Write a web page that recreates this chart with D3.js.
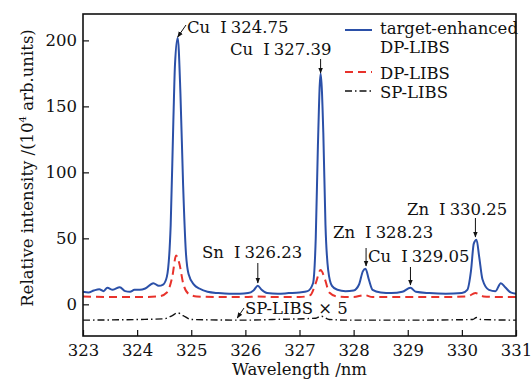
<!DOCTYPE html>
<html>
<head>
<meta charset="utf-8">
<script src="https://cdn.jsdelivr.net/npm/d3@7/dist/d3.min.js"></script>
<style>
  body { margin: 0; background: #fff; }
</style>
</head>
<body>
<svg id="chart" width="531" height="379"></svg>
<script>
// wavelength (nm) / intensity (10^4 arb.units)
const enhancedWl = [323.00, 323.10, 323.20, 323.30, 323.38, 323.45, 323.55, 323.68, 323.78, 323.87, 323.95, 324.05, 324.15, 324.30, 324.40, 324.48, 324.55, 324.62, 324.67, 324.70, 324.75, 324.80, 324.85, 324.90, 324.95, 325.05, 325.15, 325.30, 325.50, 325.70, 325.90, 326.05, 326.15, 326.23, 326.30, 326.40, 326.60, 326.80, 327.00, 327.15, 327.25, 327.30, 327.34, 327.39, 327.44, 327.48, 327.53, 327.60, 327.70, 327.85, 328.00, 328.10, 328.17, 328.22, 328.28, 328.35, 328.50, 328.70, 328.90, 329.05, 329.15, 329.40, 329.70, 330.00, 330.10, 330.17, 330.22, 330.27, 330.32, 330.38, 330.50, 330.62, 330.72, 330.80, 330.90, 331.00];
const enhancedVal = [9.5, 9, 10.5, 11.5, 10, 12.5, 11, 13, 10, 9.5, 11, 11, 12, 16, 14, 15, 21, 60, 140, 182, 202, 160, 90, 40, 23, 15, 12, 9.5, 8.5, 8, 8, 8.5, 10.5, 14, 11, 8.5, 8, 8.5, 9, 10, 16, 50, 120, 175, 130, 60, 26, 14, 11, 10, 10.5, 15, 25, 27, 19, 11, 9, 8.5, 9.5, 12.5, 9.5, 8.5, 8, 8.5, 11, 26, 46, 49, 36, 19, 11, 10, 16, 13, 9, 8];

const dpWl = [323.0, 323.5, 324.0, 324.4, 324.55, 324.65, 324.72, 324.78, 324.85, 324.95, 325.1, 325.5, 326.0, 326.23, 326.5, 327.0, 327.2, 327.3, 327.39, 327.47, 327.55, 327.7, 328.0, 328.2, 328.35, 329.0, 329.5, 330.1, 330.25, 330.4, 330.7, 331.0];
const dpVal = [6, 5.5, 5.5, 6, 9, 21, 37, 31, 16, 8, 6, 5.5, 5.5, 6, 5.5, 5.5, 7, 16, 26, 19, 9, 6, 5.5, 7, 5.5, 5.5, 5.5, 6, 8.5, 6, 5.5, 5.5];

// SP-LIBS x5, drawn with its own offset below zero
const spWl = [323.0, 324.0, 324.5, 324.65, 324.75, 324.85, 325.0, 326.0, 326.5, 327.3, 327.4, 327.55, 328.0, 329.0, 330.2, 330.27, 330.35, 331.0];
const spVal = [-12, -11.5, -11, -8.5, -6.5, -8.5, -11.5, -12, -11.5, -10.5, -9, -11.5, -12, -12, -11.5, -10, -11.5, -12];

const xTicks = [323, 324, 325, 326, 327, 328, 329, 330, 331];
const yTicks = [0, 50, 100, 150, 200];

const peakWl = [324.75, 327.39, 326.23, 328.23, 329.05, 330.25];
const peakText = ["Cu Ⅰ 324.75", "Cu Ⅰ 327.39", "Sn Ⅰ 326.23", "Zn Ⅰ 328.23", "Cu Ⅰ 329.05", "Zn Ⅰ 330.25"];

const seriesNames = ["target-enhanced", "DP-LIBS", "SP-LIBS"];

const FONT = "'DejaVu Serif', serif";
const FS = 16.5;

const svg = d3.select("#chart");
const margin = {left: 83, right: 15, top: 14, bottom: 43};
const W = 531, H = 379;

const x = d3.scaleLinear().domain([323, 331]).range([margin.left, W - margin.right]);
const y = d3.scaleLinear().domain([-24, 220]).range([H - margin.bottom, margin.top]);

svg.append("rect").attr("width", W).attr("height", H).attr("fill", "#fff");

// arrow head
svg.append("defs").append("marker")
  .attr("id", "ah").attr("viewBox", "0 0 10 10")
  .attr("refX", 9).attr("refY", 5)
  .attr("markerWidth", 6).attr("markerHeight", 6)
  .attr("orient", "auto")
  .append("path").attr("d", "M0,1 L10,5 L0,9 Z").attr("fill", "#111");

const line = d3.line().x(d => x(d[0])).y(d => y(d[1])).curve(d3.curveMonotoneX);

const plot = svg.append("g");
plot.append("path").datum(d3.zip(spWl, spVal)).attr("d", line)
  .attr("fill", "none").attr("stroke", "#111").attr("stroke-width", 1.4)
  .attr("stroke-dasharray", "7,3,1.5,3");
plot.append("path").datum(d3.zip(dpWl, dpVal)).attr("d", line)
  .attr("fill", "none").attr("stroke", "#e8322b").attr("stroke-width", 2)
  .attr("stroke-dasharray", "8,5");
plot.append("path").datum(d3.zip(enhancedWl, enhancedVal)).attr("d", line)
  .attr("fill", "none").attr("stroke", "#2b50a8").attr("stroke-width", 2);

function txt(sel) {
  return sel.style("font-family", FONT).style("font-size", FS + "px").attr("fill", "#111");
}

// axes, ticks pointing inwards
const xAxis = d3.axisBottom(x).tickValues(xTicks).tickSizeInner(-6).tickSizeOuter(0).tickFormat(d3.format("d"));
const yAxis = d3.axisLeft(y).tickValues(yTicks).tickSizeInner(-6).tickSizeOuter(0);

const gx = svg.append("g").attr("transform", `translate(0,${H - margin.bottom})`).call(xAxis);
gx.select(".domain").remove();
gx.selectAll("line").attr("stroke", "#111").attr("stroke-width", 1.2);
txt(gx.selectAll("text").attr("y", 20).attr("dy", 0));

const gy = svg.append("g").attr("transform", `translate(${margin.left},0)`).call(yAxis);
gy.select(".domain").remove();
gy.selectAll("line").attr("stroke", "#111").attr("stroke-width", 1.2);
txt(gy.selectAll("text").attr("x", -6));

svg.append("rect")
  .attr("x", margin.left).attr("y", margin.top)
  .attr("width", W - margin.left - margin.right)
  .attr("height", H - margin.top - margin.bottom)
  .attr("fill", "none").attr("stroke", "#111").attr("stroke-width", 1.6);

// axis titles
txt(svg.append("text")
  .attr("x", (margin.left + W - margin.right) / 2).attr("y", 375)
  .attr("text-anchor", "middle"))
  .text("Wavelength /nm");

const yl = txt(svg.append("text")
  .attr("transform", "translate(33,168) rotate(-90)")
  .attr("text-anchor", "middle"));
yl.append("tspan").text("Relative intensity /(10");
yl.append("tspan").style("font-size", "10px").attr("dy", -7).text("4");
yl.append("tspan").attr("dy", 7).text(" arb.units)");

// peak labels and arrows (pixel layout)
const labelPos = [
  {tx: 187, ty: 33, ax0: 186, ay0: 25, ay1: 37},
  {tx: 230, ty: 55, ay0: 59, ay1: 73},
  {tx: 202, ty: 258, ay0: 263, ay1: 283},
  {tx: 333, ty: 238, ay0: 248, ay1: 266},
  {tx: 368, ty: 262, ay0: 267, ay1: 285},
  {tx: 407, ty: 215, ay0: 218, ay1: 237}
];

peakWl.forEach((w, i) => {
  const p = labelPos[i];
  const parts = peakText[i].split("Ⅰ");
  const t = txt(svg.append("text").attr("x", p.tx).attr("y", p.ty));
  t.append("tspan").text(parts[0].trim());
  t.append("tspan").attr("dx", 10).text("Ⅰ");
  t.append("tspan").attr("dx", 4).text(parts[1].trim());
  const px = x(w);
  const x0 = i === 0 ? p.ax0 : px;
  svg.append("line")
    .attr("x1", x0).attr("y1", p.ay0).attr("x2", px).attr("y2", p.ay1)
    .attr("stroke", "#111").attr("stroke-width", 1)
    .attr("marker-end", "url(#ah)");
});

// SP-LIBS x5 note
txt(svg.append("text").attr("x", 245).attr("y", 314)).text("SP-LIBS \u00d7 5");
svg.append("line").attr("x1", 244).attr("y1", 308).attr("x2", x(325.85)).attr("y2", 318)
  .attr("stroke", "#111").attr("stroke-width", 1).attr("marker-end", "url(#ah)");

// legend
const lg = svg.append("g");
const lx0 = 345, lx1 = 372, ltx = 380;
lg.append("line").attr("x1", lx0).attr("x2", lx1).attr("y1", 30).attr("y2", 30)
  .attr("stroke", "#2b50a8").attr("stroke-width", 2);
txt(lg.append("text").attr("x", ltx).attr("y", 34)).text(seriesNames[0]);
txt(lg.append("text").attr("x", ltx).attr("y", 53)).text("DP-LIBS");
lg.append("line").attr("x1", lx0).attr("x2", lx1).attr("y1", 72).attr("y2", 72)
  .attr("stroke", "#e8322b").attr("stroke-width", 2).attr("stroke-dasharray", "8,5");
txt(lg.append("text").attr("x", ltx).attr("y", 79)).text(seriesNames[1]);
lg.append("line").attr("x1", lx0).attr("x2", lx1).attr("y1", 91).attr("y2", 91)
  .attr("stroke", "#111").attr("stroke-width", 1.4).attr("stroke-dasharray", "7,3,1.5,3");
txt(lg.append("text").attr("x", ltx).attr("y", 98)).text(seriesNames[2]);
</script>
</body>
</html>
